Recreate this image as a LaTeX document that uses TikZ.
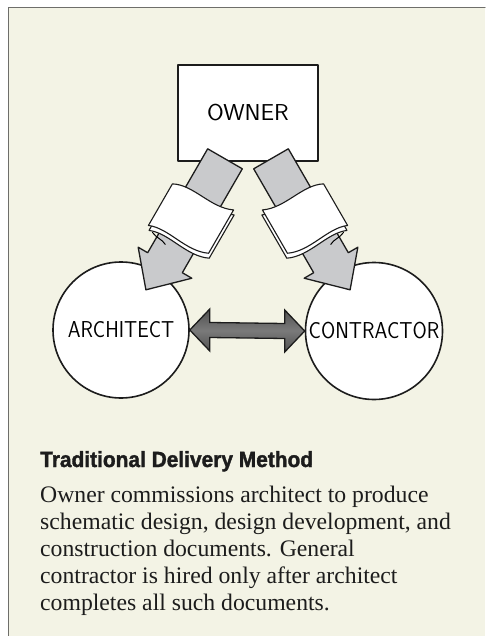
\documentclass[tikz,border=0pt]{standalone}
\usepackage{fontspec}
\setmainfont{Liberation Serif}
\newfontfamily\headfont{Liberation Sans}[BoldFeatures={FakeBold=1.6}]
\usetikzlibrary{calc}
\definecolor{paper}{HTML}{F3F3E5}
\definecolor{framegray}{HTML}{6E6E6A}
\definecolor{lightgray}{HTML}{C9CACC}
\definecolor{darkgray}{HTML}{505050}
\definecolor{midgray}{HTML}{7A7A7A}
\definecolor{inkblack}{HTML}{1C1C1C}
\tikzset{
    hand/.style={
        font=\sffamily\fontsize{23}{26}\selectfont
    },
    party/.style={draw=inkblack, line width=1.6pt, fill=white, hand, inner sep=0pt},
    flow/.style={draw=inkblack, line width=1.3pt, fill=lightgray, line join=round},
    sheet/.style={draw=inkblack, line width=1.1pt, fill=white, line join=round},
    swap/.style={draw=inkblack, line width=1.3pt, top color=darkgray, bottom color=darkgray,
        middle color=midgray, line join=miter}
}
% one grey arrow with its papers, drawn along the local x axis
\newcommand{\docflow}{%
  \draw[flow] (0,20) -- (120,20) -- (120,31) -- (153,3) -- (120,-31) -- (120,-20) -- (0,-20) -- cycle;
  \draw[sheet] (52,30) .. controls (42,11) and (54,-15) .. (44,-36) -- (94,-36)
    .. controls (104,-15) and (92,11) .. (100,30) -- cycle;
  \draw[sheet] (48,33) .. controls (38,14) and (50,-12) .. (40,-33) -- (90,-33)
    .. controls (100,-12) and (88,14) .. (96,33) -- cycle;
  \draw[line width=1pt, line cap=round] (100,26) .. controls (103,20) and (101,14) .. (104,9);
}

\begin{document}
\begin{tikzpicture}[x=1pt, y=-1pt, line cap=round, line join=round]

\useasboundingbox (0,0) rectangle (485,636);
\fill[white] (0,0) rectangle (485,636);
\fill[paper] (8,8) rectangle (485,636);
\draw[framegray, line width=1pt] (8,636) -- (8,8) -- (485,8);

\node[party, rectangle, minimum width=140, minimum height=96] (owner) at (248,113) {\scalebox{1.05}[1]{OWNER}};
\node[party, circle, minimum size=136] (arch) at (121,330) {\scalebox{0.89}[1]{ARCHITECT}};
\node[party, circle, minimum size=137] (con) at (374,331) {\scalebox{0.895}[1]{CONTRACTOR}};

% owner -> architect, owner -> contractor
\begin{scope}[shift={($(owner.south)+(-23,-3)$)}, rotate=-120]
  \docflow
\end{scope}
\begin{scope}[shift={($(owner.south)+(23,-3)$)}, rotate=-60, yscale=-1]
  \docflow
\end{scope}

% architect <-> contractor
\coordinate (dl) at (arch.east);
\coordinate (dr) at (con.west);
\draw[swap] (dl) -- ++(20,-21) -- ++(0,13.5) -- ($(dr)+(-20,-7.5)$) -- ++(0,-13.5) -- (dr)
  -- ++(-20,21) -- ++(0,-13.5) -- ($(dl)+(20,7.5)$) -- ++(0,13.5) -- cycle;

\node[anchor=base west, inner sep=0pt, text=inkblack,
  font=\headfont\bfseries\fontsize{22}{24}\selectfont] (title) at (40,467)
  {\scalebox{0.95}[1]{Traditional Delivery Method}};
\node[anchor=base west, inner sep=0pt, align=left, text=inkblack,
  font=\fontsize{23.7}{27}\selectfont] (caption) at (40,610)
  {Owner commissions architect to produce\\
   schematic design, design development, and\\
   construction documents. General\\
   contractor is hired only after architect\\
   completes all such documents.};

\end{tikzpicture}
\end{document}
